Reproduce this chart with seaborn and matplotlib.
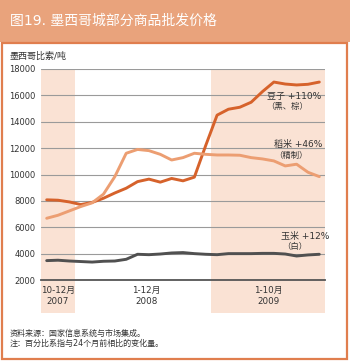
import numpy as np
import pandas as pd
import seaborn as sns
import matplotlib.pyplot as plt
from matplotlib.patches import Rectangle
from matplotlib.transforms import blended_transform_factory

# monthly wholesale prices, Oct 2007 - Oct 2009 (pesos / tonne)
months = list(range(25))
beans = [8080, 8050, 7920, 7720, 7880, 8200, 8600, 8960, 9460, 9650,
         9420, 9700, 9520, 9800, 12200, 14500, 14950, 15100, 15480, 16290,
         17010, 16860, 16790, 16840, 17010]
rice = [6680, 6910, 7240, 7570, 7850, 8510, 9840, 11610, 11900, 11810,
        11530, 11100, 11280, 11610, 11530, 11480, 11480, 11460, 11280, 11180,
        11030, 10650, 10780, 10170, 9840]
corn = [3470, 3500, 3440, 3400, 3360, 3420, 3440, 3570, 3950, 3920,
        3970, 4050, 4080, 4000, 3950, 3920, 4000, 4000, 4000, 4020,
        4020, 3970, 3820, 3900, 3950]

series_names = ['豆子', '稻米', '玉米']
year_labels = ['10-12月\n2007', '1-12月\n2008', '1-10月\n2009']
note_lines = ['资料来源：国家信息系统与市场集成。', '注：百分比系指与24个月前相比的变化量。']

df = pd.DataFrame({
    'month': months * 3,
    'price': beans + rice + corn,
    'item': [s for s in series_names for _ in months],
})

sns.set_style('white')
plt.rcParams['font.family'] = ['DejaVu Sans', 'Noto Sans CJK SC']

orange_dark = '#D6622B'
orange_light = '#EC9E72'
grey_line = '#505050'
shade = '#FAE2D4'
banner = '#E9A37C'
border = '#E07E4E'
txt = '#333333'

W, H = 350, 361
fig = plt.figure(figsize=(3.5, 3.61), dpi=100)
ax = fig.add_axes([41 / W, 1 - 280 / H, (325 - 41) / W, (280 - 69) / H])

# banner + frame
fig.patches.append(Rectangle((0, 1 - 42 / H), 1, 42 / H, transform=fig.transFigure,
                             facecolor=banner, edgecolor='none', zorder=0))
fig.patches.append(Rectangle((1.5 / W, 2.5 / H), (347 - 1.5) / W, (358 - 42) / H,
                             transform=fig.transFigure, facecolor='none',
                             edgecolor=border, linewidth=1.6, zorder=0))
fig.text(10 / W, 1 - 21 / H, '图19. 墨西哥城部分商品批发价格', color='white',
         fontsize=10, va='center', ha='left')

# shaded year bands (extend below the axis behind the year labels)
tr = blended_transform_factory(ax.transData, ax.transAxes)
low = (280 - 313) / (280 - 69)
for x0, x1 in [(-0.5, 2.5), (14.5, 24.5)]:
    ax.add_patch(Rectangle((x0, low), x1 - x0, 1 - low, transform=tr,
                           facecolor=shade, edgecolor='none', clip_on=False, zorder=0))

sns.lineplot(data=df, x='month', y='price', hue='item', ax=ax, legend=False,
             palette={'豆子': orange_dark, '稻米': orange_light, '玉米': grey_line},
             linewidth=2.1, zorder=3)

ax.set_xlim(-0.5, 24.5)
ax.set_ylim(2000, 18000)
ax.set_yticks(range(2000, 18001, 2000))
ax.yaxis.grid(True, color='#9a9a9a', linewidth=0.8)
ax.set_axisbelow(True)
ax.set_facecolor('none')
for s in ['top', 'right', 'left']:
    ax.spines[s].set_visible(False)
ax.spines['bottom'].set_color('#555555')
ax.spines['bottom'].set_linewidth(1.3)
ax.set_xticks(months)
ax.set_xticklabels([])
ax.tick_params(axis='x', direction='in', length=4, width=0.9, color='#555555')
ax.tick_params(axis='y', length=0, pad=4, labelsize=6, labelcolor=txt)
ax.set_xlabel('')
ax.set_ylabel('')

for xc, lab in zip([1, 8.75, 19.5], year_labels):
    ax.text(xc, (280 - 296) / (280 - 69), lab, transform=tr, ha='center', va='center',
            fontsize=6.3, color=txt, linespacing=1.3)

# series annotations
ax.text(24.2, 15950, '豆子 +110%', ha='right', va='center', fontsize=6.5, color=txt)
ax.text(21.2, 15140, '（黑、棕）', ha='center', va='center', fontsize=6, color=txt)
ax.text(24.3, 12240, '稻米 +46%', ha='right', va='center', fontsize=6.5, color=txt)
ax.text(21.5, 11430, '（精制）', ha='center', va='center', fontsize=6, color=txt)
ax.text(24.9, 5290, '玉米 +12%', ha='right', va='center', fontsize=6.5, color=txt,
        clip_on=False)
ax.text(21.8, 4530, '（白）', ha='center', va='center', fontsize=6, color=txt)

fig.text(9 / W, 1 - 56 / H, '墨西哥比索/吨', fontsize=6.5, color=txt, va='center')
fig.text(10 / W, 1 - 333 / H, note_lines[0], fontsize=5.8, color=txt, va='center')
fig.text(10 / W, 1 - 343 / H, note_lines[1], fontsize=5.8, color=txt, va='center')

fig.savefig('out.png', dpi=100)
